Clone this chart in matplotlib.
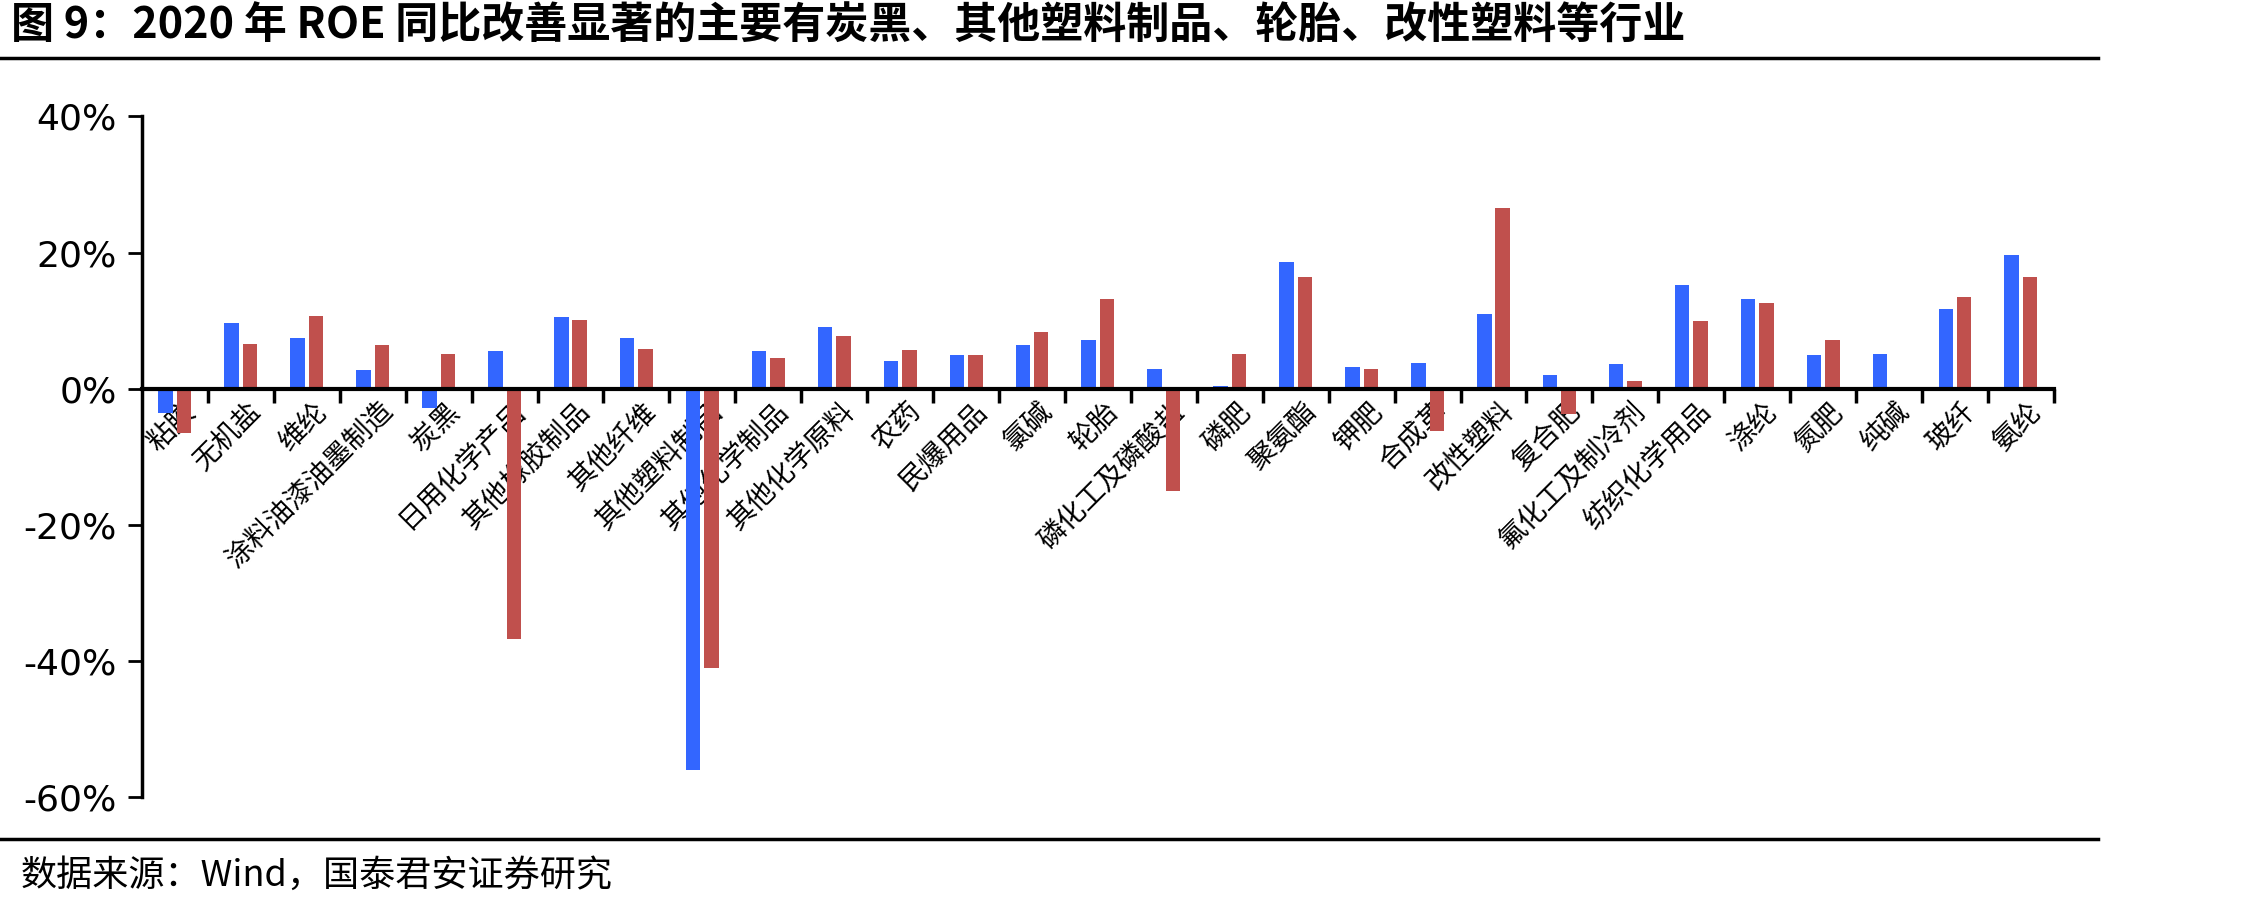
import numpy as np
import matplotlib
matplotlib.use("Agg")
import matplotlib.pyplot as plt
import matplotlib.transforms as mtransforms

plt.rcParams['font.family'] = ['Noto Sans CJK SC', 'DejaVu Sans']

# data: ROE change by sub-industry (two series)
industries = ["粘胶", "无机盐", "维纶", "涂料油漆油墨制造", "炭黑", "日用化学产品",
              "其他橡胶制品", "其他纤维", "其他塑料制品", "其他化学制品", "其他化学原料",
              "农药", "民爆用品", "氯碱", "轮胎", "磷化工及磷酸盐", "磷肥", "聚氨酯",
              "钾肥", "合成革", "改性塑料", "复合肥", "氟化工及制冷剂", "纺织化学用品",
              "涤纶", "氮肥", "纯碱", "玻纤", "氨纶"]
blue_vals = [-3.6, 9.6, 7.4, 2.7, -2.9, 5.5, 10.5, 7.5, -56.0, 5.5, 9.0,
             4.0, 4.9, 6.4, 7.1, 2.9, 0.4, 18.6, 3.2, 3.7, 10.9, 2.0, 3.6, 15.2,
             13.2, 5.0, 5.1, 11.7, 19.6]
red_vals = [-6.5, 6.6, 10.7, 6.4, 5.1, -36.8, 10.1, 5.8, -41.0, 4.5, 7.7,
            5.7, 5.0, 8.3, 13.1, -15.0, 5.1, 16.4, 2.9, -6.2, 26.5, -3.7, 1.1, 9.9,
            12.6, 7.1, 0.0, 13.4, 16.4]
y_ticks = [40, 20, 0, -20, -40, -60]
y_ticklabels = ["40%", "20%", "0%", "-20%", "-40%", "-60%"]

title = "图 9：2020 年 ROE 同比改善显著的主要有炭黑、其他塑料制品、轮胎、改性塑料等行业"
source = "数据来源：Wind，国泰君安证券研究"

BLUE = "#3366FF"
RED = "#C0504D"

fig = plt.figure(figsize=(22.68, 9.09), dpi=100)
ax = fig.add_axes([0.0626, 0.123, 0.843, 0.749])

x = np.arange(len(industries))
w = 0.22
ax.bar(x - 0.14, blue_vals, width=w, color=BLUE, zorder=2)
ax.bar(x + 0.14, red_vals, width=w, color=RED, zorder=2)

ax.set_xlim(-0.5, len(industries) - 0.5)
ax.set_ylim(-60, 40)

# spines
for s in ["top", "right"]:
    ax.spines[s].set_visible(False)
ax.spines["left"].set_linewidth(2.5)
ax.spines["bottom"].set_position(("data", 0))
ax.spines["bottom"].set_linewidth(3)
ax.spines["bottom"].set_zorder(3)

# y axis
ax.set_yticks(y_ticks)
ax.set_yticklabels(y_ticklabels, family="DejaVu Sans", fontsize=26)
ax.tick_params(axis="y", direction="out", length=10, width=2, pad=8)

# x axis: ticks between categories, labels at centers
ax.set_xticks(x)
ax.set_xticks(np.arange(0.5, len(industries), 1.0), minor=True)
ax.tick_params(axis="x", which="major", length=0, pad=6)
ax.tick_params(axis="x", which="minor", direction="out", length=10, width=2.5)
ax.set_xticklabels(industries, rotation=45, ha="right", va="center",
                   rotation_mode="anchor", fontsize=20)
offset = mtransforms.ScaledTranslation(0.16, -0.1, fig.dpi_scale_trans)
for lab in ax.get_xticklabels():
    lab.set_transform(lab.get_transform() + offset)

# title, rules and source
fig.text(0.005, 0.972, title, fontsize=31, fontweight="bold", va="center", ha="left")
fig.add_artist(plt.Line2D([0, 0.925], [0.936, 0.936], color="black", lw=2.5,
                          transform=fig.transFigure))
fig.add_artist(plt.Line2D([0, 0.925], [0.077, 0.077], color="black", lw=2.5,
                          transform=fig.transFigure))
fig.text(0.009, 0.036, source, fontsize=26, va="center", ha="left")

fig.savefig("out.png", dpi=100)
